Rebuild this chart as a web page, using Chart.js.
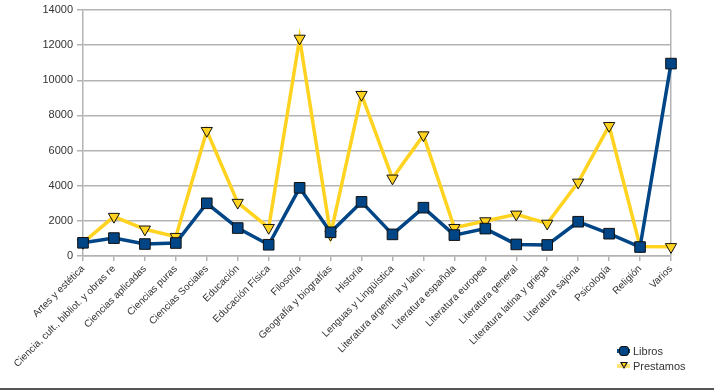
<!DOCTYPE html>
<html>
<head>
<meta charset="utf-8">
<script src="https://cdn.jsdelivr.net/npm/chart.js@4/dist/chart.umd.min.js"></script>
<style>
  html, body { margin: 0; padding: 0; background: #fff; }
  #wrap { position: relative; width: 714px; height: 390px; overflow: hidden; font-family: "Liberation Sans", Arial, sans-serif; }
  #c { position: absolute; left: 0; top: 0; }
  #frame { position: absolute; left: 0; top: 388px; width: 714px; height: 2px; background: #555; }
  .leg { position: absolute; left: 617px; font-size: 11px; color: #333; height: 14px; line-height: 14px; white-space: nowrap; }
  .sym { position: absolute; left: 0; top: 0; width: 13px; height: 14px; }
  .sym .ln { position: absolute; left: 0; top: 5px; width: 13px; height: 4px; }
  .txt { position: absolute; left: 16px; top: 0; }
</style>
</head>
<body>
<div id="wrap">
  <canvas id="c" width="714" height="390"></canvas>
  <div id="frame"></div>
  <div class="leg" style="top:344px;">
    <div class="sym">
      <div class="ln" style="background:#004586;"></div>
      <div style="position:absolute;left:2px;top:2px;width:8px;height:8px;background:#004586;border:1px solid #111;border-radius:3px;"></div>
    </div>
    <span class="txt">Libros</span>
  </div>
  <div class="leg" style="top:359px;">
    <div class="sym">
      <div class="ln" style="background:#ffd320;opacity:0.6;"></div>
      <div style="position:absolute;left:3px;top:3px;width:0;height:0;border-left:4px solid transparent;border-right:4px solid transparent;border-top:7px solid #111;"></div>
      <div style="position:absolute;left:5px;top:4px;width:0;height:0;border-left:2px solid transparent;border-right:2px solid transparent;border-top:4px solid #ffd320;"></div>
    </div>
    <span class="txt">Prestamos</span>
  </div>
</div>
<script>
const categories = [
  "Artes y estética",
  "Ciencia, cult., bibliot. y obras re",
  "Ciencias aplicadas",
  "Ciencias puras",
  "Ciencias Sociales",
  "Educación",
  "Educación Física",
  "Filosofía",
  "Geografía y biografías",
  "Historia",
  "Lenguas y Lingüística",
  "Literatura argentina y latin.",
  "Literatura española",
  "Literatura europea",
  "Literatura general",
  "Literatura latina y griega",
  "Literatura sajona",
  "Psicología",
  "Religión",
  "Varios"
];
const libros = [750, 1020, 680, 740, 3000, 1590, 640, 3880, 1350, 3080, 1230, 2750, 1190, 1560, 660, 630, 1950, 1270, 510, 10950];
const prestamos = [760, 2240, 1520, 1100, 7130, 3040, 1610, 12380, 1220, 9180, 4420, 6880, 1610, 1990, 2370, 1850, 4190, 7410, 540, 520];
const yTicks = [0, 2000, 4000, 6000, 8000, 10000, 12000, 14000];

const GRID = '#b3b3b3';
const TXT = '#333333';

new Chart(document.getElementById('c'), {
  type: 'line',
  data: {
    labels: categories,
    datasets: [
      {
        label: 'Prestamos',
        data: prestamos,
        borderColor: '#ffd320',
        backgroundColor: '#ffd320',
        borderWidth: 3.5,
        pointStyle: 'triangle',
        rotation: 180,
        pointRadius: 6.5,
        pointHoverRadius: 6.5,
        pointBackgroundColor: '#ffd320',
        pointBorderColor: '#111',
        pointBorderWidth: 1,
        tension: 0,
        order: 2
      },
      {
        label: 'Libros',
        data: libros,
        borderColor: '#004586',
        backgroundColor: '#004586',
        borderWidth: 3.5,
        pointStyle: 'rect',
        pointRadius: 7.5,
        pointHoverRadius: 7.5,
        pointBackgroundColor: '#004586',
        pointBorderColor: '#111',
        pointBorderWidth: 1,
        tension: 0,
        order: 1
      }
    ]
  },
  options: {
    responsive: false,
    animation: false,
    events: [],
    layout: { padding: { left: 0, right: 43, top: 10, bottom: 0 } },
    plugins: { legend: { display: false }, tooltip: { enabled: false } },
    scales: {
      x: {
        type: 'category',
        offset: false,
        border: { display: true, color: GRID, width: 1.5 },
        grid: {
          drawOnChartArea: true,
          color: (ctx) => ctx.index === categories.length - 1 ? GRID : 'rgba(0,0,0,0)',
          lineWidth: 1.5,
          tickColor: GRID,
          tickLength: 5,
          drawTicks: true
        },
        ticks: {
          autoSkip: false,
          maxRotation: 45,
          minRotation: 45,
          color: TXT,
          font: { family: '"Liberation Sans", Arial, sans-serif', size: 10 },
          padding: 2
        },
        afterFit: (s) => { s.height = 134; s.paddingLeft = 0; s.paddingRight = 0; }
      },
      y: {
        min: 0,
        max: 14000,
        afterBuildTicks: (s) => { s.ticks = yTicks.map(v => ({ value: v })); },
        border: { display: true, color: GRID, width: 1.5 },
        grid: { color: GRID, lineWidth: 1.5, tickLength: 6, tickColor: GRID },
        ticks: {
          color: TXT,
          font: { family: '"Liberation Sans", Arial, sans-serif', size: 11 },
          padding: 4,
          callback: (v) => String(v)
        },
        afterFit: (s) => { s.width = 83; s.paddingTop = 0; s.paddingBottom = 0; }
      }
    }
  }
});
</script>
</body>
</html>
